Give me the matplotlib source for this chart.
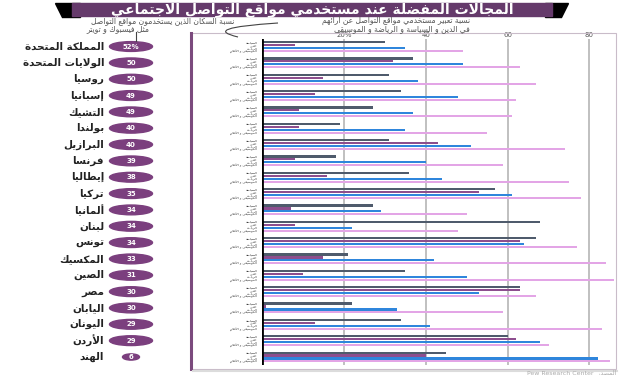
import matplotlib
matplotlib.use('Agg')
import matplotlib.pyplot as plt
import matplotlib.transforms as mtransforms
from matplotlib.patches import Rectangle, Ellipse, Polygon, PathPatch
from matplotlib.path import Path
from matplotlib.lines import Line2D
import numpy as np

# ---- data ----
countries = ['المملكة المتحدة', 'الولايات المتحدة', 'روسيا', 'إسبانيا', 'التشيك',
             'بولندا', 'البرازيل', 'فرنسا', 'إيطاليا', 'تركيا', 'ألمانيا', 'لبنان',
             'تونس', 'المكسيك', 'الصين', 'مصر', 'اليابان', 'اليونان', 'الأردن', 'الهند']
users_pct = [52, 50, 50, 49, 49, 40, 40, 39, 38, 35, 34, 34, 34, 33, 31, 30, 30, 29, 29, 6]
users_labels = ['52%'] + [str(v) for v in users_pct[1:]]

topics = ['السياسة', 'الدين', 'الرياضة', 'الموسيقى و الأفلام']
politics = [30, 37, 31, 34, 27, 19, 31, 18, 36, 57, 27, 68, 67, 21, 35, 63, 22, 34, 60, 45]
religion = [8, 32, 15, 13, 9, 9, 43, 8, 16, 53, 7, 8, 63, 15, 10, 63, 1, 13, 62, 40]
sports = [35, 49, 38, 48, 37, 35, 51, 40, 44, 61, 29, 22, 64, 42, 50, 53, 33, 41, 68, 82]
music = [49, 63, 67, 62, 61, 55, 74, 59, 75, 78, 50, 48, 77, 84, 86, 67, 59, 83, 70, 85]

x_ticks = [20, 40, 60, 80]
x_tick_labels = ['20%', '40', '60', '80']

title = 'المجالات المفضلة عند مستخدمي مواقع التواصل الاجتماعي'
note_users = ['نسبة السكان الذين يستخدمون مواقع التواصل', 'مثل فيسبوك و تويتر']
note_topics = ['نسبة تعبير مستخدمي مواقع التواصل عن آرائهم', 'في الدين و السياسة و الرياضة و الموسيقى']
source = 'المصدر'

bar_colors = ['#4f5b6c', '#8d4e8e', '#2f86dc', '#e3a5e6']
badge_color = '#7b3f7e'

W, H = 620, 375

# presentation forms: letter -> (isolated code point, number of forms)
AR_FORMS = {
    'ء': (0xFE80, 1), 'آ': (0xFE81, 2), 'أ': (0xFE83, 2), 'ؤ': (0xFE85, 2),
    'إ': (0xFE87, 2), 'ئ': (0xFE89, 4), 'ا': (0xFE8D, 2), 'ب': (0xFE8F, 4),
    'ة': (0xFE93, 2), 'ت': (0xFE95, 4), 'ث': (0xFE99, 4), 'ج': (0xFE9D, 4),
    'ح': (0xFEA1, 4), 'خ': (0xFEA5, 4), 'د': (0xFEA9, 2), 'ذ': (0xFEAB, 2),
    'ر': (0xFEAD, 2), 'ز': (0xFEAF, 2), 'س': (0xFEB1, 4), 'ش': (0xFEB5, 4),
    'ص': (0xFEB9, 4), 'ض': (0xFEBD, 4), 'ط': (0xFEC1, 4), 'ظ': (0xFEC5, 4),
    'ع': (0xFEC9, 4), 'غ': (0xFECD, 4), 'ف': (0xFED1, 4), 'ق': (0xFED5, 4),
    'ك': (0xFED9, 4), 'ل': (0xFEDD, 4), 'م': (0xFEE1, 4), 'ن': (0xFEE5, 4),
    'ه': (0xFEE9, 4), 'و': (0xFEED, 2), 'ى': (0xFEEF, 2), 'ي': (0xFEF1, 4),
}
LAM_ALEF = {'ا': 0xFEFB, 'أ': 0xFEF7, 'إ': 0xFEF9, 'آ': 0xFEF5}


def ar(text):
    """
    Shape Arabic text into joined presentation forms and flip it to visual
    order, since matplotlib does no bidi / shaping on its own.
    """
    tokens = []
    i = 0
    while i < len(text):
        c = text[i]
        if c == 'ل' and i + 1 < len(text) and text[i + 1] in LAM_ALEF:
            tokens.append((LAM_ALEF[text[i + 1]], 2))
            i += 2
        elif c in AR_FORMS:
            tokens.append(AR_FORMS[c])
            i += 1
        else:
            tokens.append(c)
            i += 1

    out = []
    for k, tok in enumerate(tokens):
        if isinstance(tok, str):
            out.append(tok)
            continue
        base, n = tok
        prev = tokens[k - 1] if k > 0 else None
        nxt = tokens[k + 1] if k + 1 < len(tokens) else None
        join_prev = n > 1 and isinstance(prev, tuple) and prev[1] == 4
        join_next = n == 4 and isinstance(nxt, tuple) and nxt[1] > 1
        if join_prev and join_next:
            form = 3
        elif join_prev:
            form = 1
        elif join_next:
            form = 2
        else:
            form = 0
        out.append(chr(base + form))
    return ''.join(reversed(out))


def px(x, y):
    return x / W, 1 - y / H


def draw_header(fig):
    # ribbon-style title banner
    fig.patches.append(Polygon([px(55, 3), px(80, 3), px(80, 17), px(62, 17)],
                               closed=True, color='black', transform=fig.transFigure))
    fig.patches.append(Polygon([px(568, 3), px(545, 3), px(545, 17), px(561, 17)],
                               closed=True, color='black', transform=fig.transFigure))
    x0, y0 = px(72, 16)
    fig.patches.append(Rectangle((x0, y0), (552 - 72) / W, 13 / H, color='#653a6b',
                                 transform=fig.transFigure))
    fig.text(*px(312, 9.5), ar(title), color='white', fontsize=10, fontweight='bold',
             ha='center', va='center')

    note_kw = dict(fontsize=5.5, color='#555555', va='center')
    fig.text(*px(234, 20.5), ar(note_users[0]), ha='right', **note_kw)
    fig.text(*px(118, 28.5), ar(note_users[1]), ha='center', **note_kw)
    fig.text(*px(470, 20.5), ar(note_topics[0]), ha='right', **note_kw)
    fig.text(*px(470, 28.5), ar(note_topics[1]), ha='right', **note_kw)

    fig.lines.append(Line2D([136 / W, 136 / W], [1 - 32 / H, 1 - 41 / H], color='#444444',
                            lw=0.8, transform=fig.transFigure))
    # hooked pointer from the topics note down into the frame
    hook = Path([px(278, 23), px(200, 28), px(238, 37)],
                [Path.MOVETO, Path.CURVE3, Path.CURVE3])
    fig.patches.append(PathPatch(hook, fill=False, edgecolor='#444444', lw=0.8,
                                 transform=fig.transFigure))


def draw_frame(fig):
    x0, y0 = px(191, 369)
    fig.patches.append(Rectangle((x0, y0), (616 - 191) / W, (369 - 33) / H, fill=False,
                                 edgecolor='#c9bcc9', lw=0.8, transform=fig.transFigure))
    fig.lines.append(Line2D([191 / W, 191 / W], [1 - 33 / H, 1 - 369 / H], color='#7b4a7d',
                            lw=2.2, transform=fig.transFigure))
    fig.lines.append(Line2D([193 / W, 617 / W], [1 - 371 / H, 1 - 371 / H], color='#dcdcdc',
                            lw=1.5, transform=fig.transFigure))
    fig.text(*px(616, 373), 'Pew Research Center  ' + ar(source), fontsize=4.5,
             color='#aaaaaa', ha='right', va='center')


def draw_chart(fig):
    left, right, top, bottom = 262, 614, 39, 365
    ax = fig.add_axes([left / W, 1 - bottom / H, (right - left) / W, (bottom - top) / H])
    n = len(countries)
    y = np.arange(n)
    offsets = [-0.27, -0.09, 0.09, 0.27]
    series = [politics, religion, sports, music]
    for off, vals, col in zip(offsets, series, bar_colors):
        ax.barh(y + off, vals, height=0.13, color=col, zorder=3)

    ax.set_xlim(0, 86)
    ax.set_ylim(n - 0.51, -0.46)
    ax.axvline(0, color='black', lw=2, zorder=4)
    ax.set_xticks(x_ticks)
    ax.set_xticklabels(x_tick_labels)
    ax.xaxis.tick_top()
    ax.tick_params(axis='x', length=0, pad=1, labelsize=5, labelcolor='#555555')
    ax.set_yticks([])
    ax.grid(axis='x', color='#b5b5b5', lw=1.2, zorder=1)
    for s in ax.spines.values():
        s.set_visible(False)

    # per-bar topic labels, between the frame edge and the axis (tiny, as in the original)
    for i in range(n):
        for off, t in zip(offsets, topics):
            ax.text(-1.2, i + off, ar(t), fontsize=2.4, color='#333333', ha='right',
                    va='center', clip_on=False)

    # country names and population badges
    trans = mtransforms.blended_transform_factory(fig.transFigure, ax.transData)
    for i, (c, v, lab) in enumerate(zip(countries, users_pct, users_labels)):
        w = 43 if v > 10 else 17
        h = 0.6 if v > 10 else 0.38
        ax.add_patch(Ellipse((131 / W, i), w / W, h, color=badge_color, transform=trans,
                             clip_on=False))
        ax.text(131 / W, i, lab, transform=trans, fontsize=5, color='white',
                fontweight='bold', ha='center', va='center', clip_on=False)
        ax.text(104 / W, i, ar(c), transform=trans, fontsize=7.5, color='#222222',
                fontweight='bold', ha='right', va='center', clip_on=False)
    return ax


if __name__ == '__main__':
    plt.rcParams['font.family'] = ['DejaVu Sans']
    fig = plt.figure(figsize=(W / 100, H / 100), dpi=100)
    draw_frame(fig)
    draw_chart(fig)
    draw_header(fig)
    fig.savefig('out.png', dpi=100)
